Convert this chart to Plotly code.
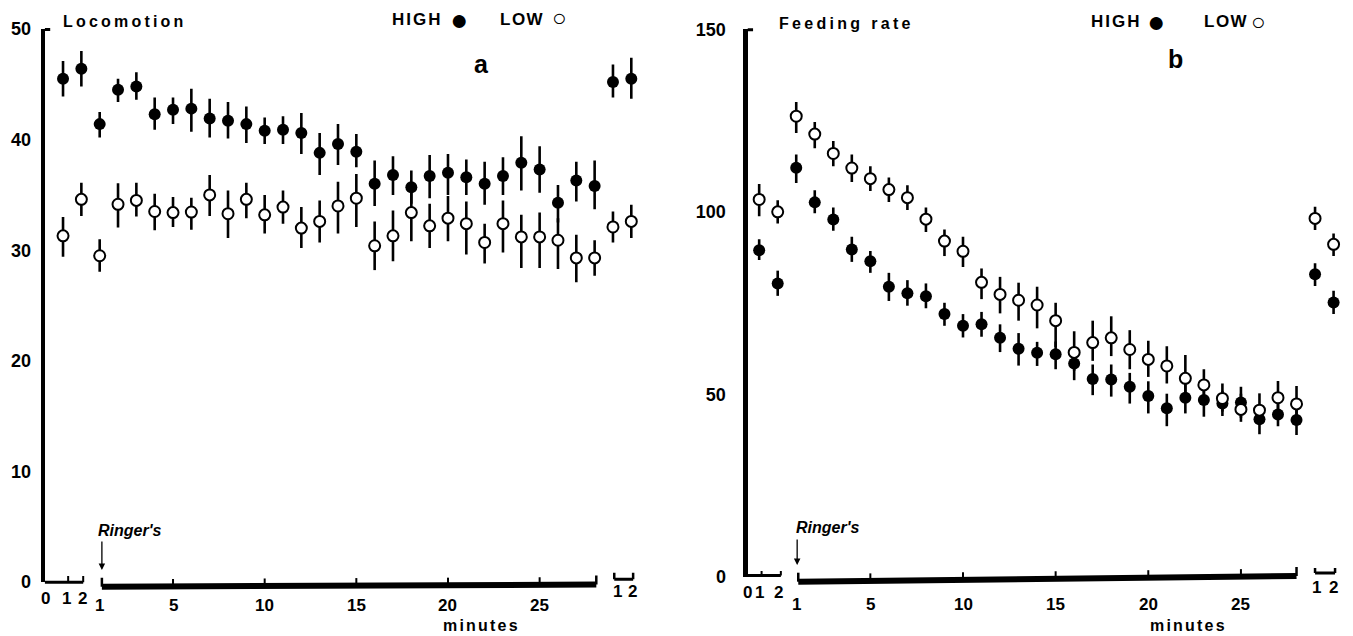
import plotly.graph_objects as go

# ---------------- data ----------------
pre_x = [-1, 0]                      # pre-treatment samples (minutes 1, 2)
main_minutes = list(range(1, 29))    # minutes after Ringer's
post_x = [29, 30]                    # recovery samples (1, 2)

# Panel a: Locomotion
loco_high = [45.5, 46.4,
             41.4, 44.5, 44.8, 42.3, 42.7, 42.8, 41.9, 41.7, 41.4, 40.8, 40.9, 40.6, 38.8, 39.6,
             38.9, 36.0, 36.8, 35.7, 36.7, 37.0, 36.6, 36.0, 36.7, 37.9, 37.3, 34.3, 36.3, 35.8,
             45.2, 45.5]
loco_high_up = [1.6, 1.6,
                1.1, 1.0, 1.3, 1.5, 1.1, 1.8, 1.8, 1.7, 1.6, 1.2, 1.2, 1.8, 1.8, 1.8,
                1.6, 2.1, 1.7, 1.5, 1.9, 1.7, 1.6, 2.0, 1.7, 2.4, 2.1, 1.6, 1.7, 2.3,
                1.6, 1.9]
loco_high_dn = [1.6, 1.6,
                1.2, 1.1, 1.2, 1.4, 1.3, 2.1, 1.7, 1.6, 1.7, 1.2, 1.3, 1.9, 2.0, 1.9,
                1.4, 2.0, 1.8, 1.5, 2.0, 2.0, 1.6, 1.9, 1.7, 2.5, 2.1, 1.8, 1.9, 2.1,
                1.4, 1.8]
loco_low = [31.3, 34.6,
            29.5, 34.15, 34.5, 33.5, 33.4, 33.45, 35.0, 33.3, 34.6, 33.2, 33.9, 32.0, 32.6, 34.0,
            34.7, 30.4, 31.3, 33.4, 32.2, 32.9, 32.4, 30.7, 32.4, 31.2, 31.2, 30.9, 29.3, 29.3,
            32.1, 32.6]
loco_low_up = [1.7, 1.5,
               1.5, 1.9, 1.6, 1.6, 1.4, 1.3, 1.8, 2.1, 1.5, 1.8, 1.5, 1.9, 1.9, 2.2,
               2.2, 2.2, 2.3, 2.0, 2.0, 2.0, 2.0, 1.7, 2.1, 2.0, 2.2, 2.0, 2.1, 1.6,
               1.4, 1.5]
loco_low_dn = [1.9, 1.5,
               1.45, 2.1, 1.45, 1.7, 1.3, 1.6, 1.9, 2.2, 1.7, 1.7, 1.5, 1.8, 1.9, 2.5,
               2.6, 2.2, 2.3, 2.6, 2.0, 2.1, 2.8, 1.9, 2.6, 2.8, 2.8, 2.6, 2.2, 1.6,
               1.4, 1.5]

# Panel b: Feeding rate
feed_high = [89.5, 80.4,
             112.1, 102.6, 97.9, 89.7, 86.5, 79.5, 77.7, 76.9, 72.0, 68.8, 69.2, 65.5, 62.5, 61.4,
             61.0, 58.5, 54.2, 54.1, 52.1, 49.6, 46.2, 49.1, 48.5, 47.5, 47.8, 43.2, 44.5, 43.0,
             82.9, 75.2]
feed_high_up = [3.0, 3.5,
                3.6, 3.3, 3.3, 3.5, 2.8, 3.8, 3.6, 3.5, 3.1, 3.2, 3.4, 3.7, 4.3, 3.0,
                3.5, 4.0, 4.0, 4.1, 3.8, 4.0, 4.0, 4.0, 4.0, 3.5, 4.3, 3.8, 3.5, 4.0,
                3.0, 3.2]
feed_high_dn = [2.7, 3.4,
                4.2, 3.0, 3.1, 3.4, 3.2, 3.9, 3.4, 3.3, 3.2, 3.2, 3.4, 3.9, 4.6, 3.6,
                4.1, 4.6, 4.4, 4.7, 4.6, 4.8, 4.9, 4.3, 4.6, 3.4, 4.2, 4.1, 3.2, 4.1,
                3.2, 3.2]
feed_low = [103.4, 100.0,
            126.2, 121.3, 116.0, 112.0, 109.1, 106.1, 103.9, 98.0, 92.0, 89.2, 80.7, 77.4, 75.8, 74.5,
            70.2, 61.5, 64.2, 65.5, 62.3, 59.6, 57.8, 54.4, 52.6, 48.9, 45.9, 45.7, 49.1, 47.4,
            98.2, 91.1]
feed_low_up = [4.2, 3.2,
               3.9, 3.3, 3.4, 3.7, 3.4, 3.3, 3.4, 3.2, 3.2, 4.0, 3.8, 4.8, 4.8, 5.0,
               4.9, 5.8, 6.0, 5.9, 5.3, 5.1, 5.4, 6.4, 4.3, 4.1, 4.3, 4.6, 4.6, 4.9,
               3.2, 3.0]
feed_low_dn = [4.6, 3.2,
               4.6, 3.9, 3.5, 3.8, 3.4, 3.4, 3.4, 3.5, 4.1, 4.3, 4.6, 5.2, 5.6, 6.4,
               7.2, 5.0, 5.0, 5.0, 5.4, 4.8, 4.8, 4.8, 4.0, 3.6, 3.4, 3.6, 3.6, 3.6,
               3.2, 3.2]

loco_yticks = [0, 10, 20, 30, 40, 50]
feed_yticks = [0, 50, 100, 150]
main_xticks = [1, 5, 10, 15, 20, 25]
pre_labels = ["0", "1", "2"]
post_labels = ["1", "2"]

# ---------------- layout helpers ----------------
W, H = 1353, 636
def fx(p):
    return p / W
def fy(p):
    return 1 - p / H

FONT = "Liberation Sans, Arial, sans-serif"
x_all = pre_x + main_minutes + post_x

fig = go.Figure()

def add_series(xa, ya, vals, up, dn, filled):
    if filled:
        marker = dict(symbol="circle", size=12, color="black", line=dict(width=0))
    else:
        marker = dict(symbol="circle", size=11, color="white", line=dict(color="black", width=2))
    fig.add_trace(go.Scatter(
        x=x_all, y=vals, xaxis=xa, yaxis=ya, mode="markers", marker=marker,
        error_y=dict(type="data", symmetric=False, array=up, arrayminus=dn,
                     color="black", thickness=2.6, width=0),
        showlegend=False, cliponaxis=False, hoverinfo="skip"))

add_series("x", "y", loco_high, loco_high_up, loco_high_dn, True)
add_series("x", "y", loco_low, loco_low_up, loco_low_dn, False)
add_series("x2", "y2", feed_high, feed_high_up, feed_high_dn, True)
add_series("x2", "y2", feed_low, feed_low_up, feed_low_dn, False)

# panel geometry (pixels)
P = {
    "a": dict(xref="x", xr=[-2.0, 30.6], dom=[44.7, 642.3], ybot=582, ytop=29,
              pre_y=582.3, pre_end=0.1, pre_tick=-0.72, pre_tick_top=576,
              main=[1.12, 586.7, 28.09, 584.5],
              post=[29.07, 30.1, 579.3, 572.7],
              pre_lab_x=[-1.97, -0.83, 0.05], pre_lab_y=598,
              main_lab_y=605, post_lab_x=[29.23, 30.05], post_lab_y=591,
              arrow_x=1.12, arrow_tip=570, arrow_len=30),
    "b": dict(xref="x2", xr=[-1.63, 30.6], dom=[747.5, 1344.7], ybot=577, ytop=29.3,
              pre_y=575.5, pre_end=0.17, pre_tick=-0.87, pre_tick_top=571,
              main=[1.11, 581.7, 28.0, 576.0],
              post=[29.0, 30.08, 573, 568],
              pre_lab_x=[-1.63, -0.97, 0.06], pre_lab_y=592.5,
              main_lab_y=604, post_lab_x=[29.1, 30.0], post_lab_y=587.5,
              arrow_x=1.05, arrow_tip=565, arrow_len=27),
}

shapes = []
annotations = []

def line(xref, x0, y0, x1, y1, w):
    shapes.append(dict(type="line", xref=xref, yref="paper", x0=x0, x1=x1,
                       y0=fy(y0), y1=fy(y1), line=dict(color="black", width=w)))

def text(xref, x, ypx, s, size, anchor="center", bold=True, italic=False):
    if italic:
        s = "<i>" + s + "</i>"
    if bold:
        s = "<b>" + s + "</b>"
    annotations.append(dict(xref=xref, yref="paper", x=x, y=fy(ypx), text=s,
                            showarrow=False, xanchor=anchor, yanchor="middle",
                            font=dict(family=FONT, size=size, color="black")))

for key, p in P.items():
    xr = p["xref"]
    x0 = p["xr"][0]
    # cap at top of y axis
    line(xr, x0, p["ytop"] + 0.5, x0 + 0.3, p["ytop"] + 0.5, 3)
    # pre-treatment axis
    line(xr, x0, p["pre_y"], p["pre_end"], p["pre_y"], 3)
    for t in [p["pre_tick"], p["pre_end"]]:
        line(xr, t, p["pre_y"], t, p["pre_tick_top"], 2)
    # main (minutes) axis, drawn slightly slanted as in the original
    u0, y0, u1, y1 = p["main"]
    line(xr, u0, y0, u1, y1, 6)
    def yat(u):
        return y0 + (u - u0) * (y1 - y0) / (u1 - u0)
    line(xr, u0, yat(u0), u0, yat(u0) - 9, 2.5)
    line(xr, u1, yat(u1), u1, yat(u1) - 9, 2.5)
    for t in main_xticks[1:]:
        line(xr, t, yat(t) - 2, t, yat(t) - 7.5, 2)
    # recovery bracket
    a0, a1, by, bt = p["post"]
    line(xr, a0, by, a1, by, 3)
    line(xr, a0, by, a0, bt, 2.5)
    line(xr, a1, by, a1, bt, 2.5)
    # axis labels
    for lx, s in zip(p["pre_lab_x"], pre_labels):
        text(xr, lx, p["pre_lab_y"], s, 17)
    for t in main_xticks:
        text(xr, t, p["main_lab_y"], str(t), 17)
    for lx, s in zip(p["post_lab_x"], post_labels):
        text(xr, lx, p["post_lab_y"], s, 17)
    # Ringer's arrow
    annotations.append(dict(xref=xr, yref="paper", x=p["arrow_x"], y=fy(p["arrow_tip"]),
                            text="", showarrow=True, ax=0, ay=-p["arrow_len"],
                            arrowhead=2, arrowsize=1, arrowwidth=1.3, arrowcolor="black"))

LS = lambda s, sp: '<span style="letter-spacing:%spx">%s</span>' % (sp, s)

# panel a texts
text("paper", fx(125), 21, LS("Locomotion", 3.2), 16)
text("paper", fx(417), 19, LS("HIGH", 2.0), 17)
text("paper", fx(458.5), 19, "●", 30, bold=False)
text("paper", fx(522), 19, LS("LOW", 1.5), 17)
text("paper", fx(559.5), 18, "○", 24, bold=False)
text("paper", fx(481), 64, "a", 25)
text("paper", fx(96), 530, "Ringer's", 16, anchor="left", italic=True)
text("paper", fx(481), 625, LS("minutes", 2.2), 16)

# panel b texts
text("paper", fx(846), 23, LS("Feeding rate", 3.3), 16)
text("paper", fx(1116), 22, LS("HIGH", 2.0), 17)
text("paper", fx(1156), 22, "●", 30, bold=False)
text("paper", fx(1226), 22, LS("LOW", 1.5), 17)
text("paper", fx(1258.5), 21, "○", 24, bold=False)
text("paper", fx(1175), 59, "b", 25)
text("paper", fx(794), 527, "Ringer's", 16, anchor="left", italic=True)
text("paper", fx(1188), 625, LS("minutes", 2.2), 16)

ycommon = dict(showgrid=False, zeroline=False, showline=True, linecolor="black",
               ticks="", automargin=False,
               tickfont=dict(family=FONT, size=18, color="black"))

fig.update_layout(
    width=W, height=H, autosize=False,
    margin=dict(l=0, r=0, t=0, b=0, pad=0, autoexpand=False),
    paper_bgcolor="white", plot_bgcolor="white",
    showlegend=False,
    xaxis=dict(domain=[fx(P["a"]["dom"][0]), fx(P["a"]["dom"][1])], range=P["a"]["xr"],
               anchor="y", visible=False, automargin=False),
    yaxis=dict(domain=[fy(P["a"]["ybot"]), fy(P["a"]["ytop"])], range=[0, 50], anchor="x",
               tickvals=loco_yticks, ticktext=["<b>%d</b>" % v for v in loco_yticks],
               linewidth=4, ticklabelstandoff=6, **ycommon),
    xaxis2=dict(domain=[fx(P["b"]["dom"][0]), fx(P["b"]["dom"][1])], range=P["b"]["xr"],
                anchor="y2", visible=False, automargin=False),
    yaxis2=dict(domain=[fy(P["b"]["ybot"]), fy(P["b"]["ytop"])], range=[0, 150], anchor="x2",
                tickvals=feed_yticks, ticktext=["<b>%d</b>" % v for v in feed_yticks],
                linewidth=5, ticklabelstandoff=13, **ycommon),
    shapes=shapes,
    annotations=annotations,
)

fig.write_html("out.html")
